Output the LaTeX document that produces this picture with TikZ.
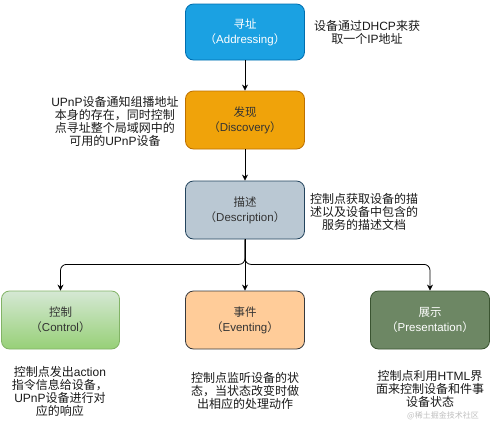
\documentclass[tikz,border=0pt]{standalone}
\usepackage{fontspec}
\setmainfont{Noto Sans CJK SC}
\newfontfamily\lat{Liberation Sans}
\newcommand{\la}[1]{{\lat #1}}
\usetikzlibrary{arrows.meta}
\definecolor{addrfill}{HTML}{1BA1E2}
\definecolor{addrline}{HTML}{006EAF}
\definecolor{discfill}{HTML}{F0A30A}
\definecolor{discline}{HTML}{BD7000}
\definecolor{descfill}{HTML}{BAC8D3}
\definecolor{descline}{HTML}{23445D}
\definecolor{ctrltop}{HTML}{D5E8D4}
\definecolor{ctrlbot}{HTML}{97D077}
\definecolor{ctrlline}{HTML}{82B366}
\definecolor{evfill}{HTML}{FFCC99}
\definecolor{evline}{HTML}{36393D}
\definecolor{presfill}{HTML}{6D8764}
\definecolor{presline}{HTML}{3A5431}
\tikzset{
  box/.style={draw, rounded corners=8pt, minimum width=119pt, minimum height=58pt,
    align=center, font=\fontsize{11.5}{15}\selectfont, line width=0.8pt, inner sep=2pt},
  note/.style={align=center, font=\fontsize{12}{13}\selectfont, inner sep=0pt, text=black!90},
  arr/.style={draw, line width=0.8pt, -{Stealth[length=6pt,width=6pt]}, rounded corners=6pt}
}
\begin{document}
\begin{tikzpicture}[x=1pt,y=-1pt]
\useasboundingbox (0,0) rectangle (491,421);
\node[box, fill=addrfill, draw=addrline, text=white, minimum height=56pt] (addr) at (245,32) {寻址\\（\la{Addressing}）};
\node[box, fill=discfill, draw=discline, text=black!80] (disc) at (245,120) {发现\\（\la{Discovery}）};
\node[box, fill=descfill, draw=descline, text=black!80] (desc) at (245,210) {描述\\（\la{Description}）};
\node[box, top color=ctrltop, bottom color=ctrlbot, draw=ctrlline, text=black!80, minimum width=118pt] (ctrl) at (60.5,320) {控制\\（\la{Control}）};
\node[box, fill=evfill, draw=evline, text=black!80] (ev) at (245,320) {事件\\（\la{Eventing}）};
\node[box, fill=presfill, draw=presline, text=white] (pres) at (430,320) {展示\\（\la{Presentation}）};

\draw[arr] (addr) -- (disc);
\draw[arr] (disc) -- (desc);
\draw[arr] (desc.south) -- ++(0,25) -| (ctrl.north);
\draw[arr] (desc.south) -- (ev.north);
\draw[arr] (desc.south) -- ++(0,25) -| (pres.north);

\node[note] (n1) at (367,32) {设备通过\la{DHCP}来获\\取一个\la{IP}地址};
\node[note] (n2) at (115,121) {\la{UPnP}设备通知组播地址\\本身的存在，同时控制\\点寻址整个局域网中的\\可用的\la{UPnP}设备};
\node[note] (n3) at (364,212) {控制点获取设备的描\\述以及设备中包含的\\服务的描述文档};
\node[note] (n4) at (60,391) {控制点发出\la{action}\\指令信息给设备，\\\la{UPnP}设备进行对\\应的响应};
\node[note] (n5) at (245,391) {控制点监听设备的状\\态，当状态改变时做\\出相应的处理动作};
\node[note] (n6) at (430,389) {控制点利用\la{HTML}界\\面来控制设备和件事\\设备状态};
\node[font=\fontsize{8}{9}\selectfont, text=black!25, inner sep=0pt] (wm) at (443,415.5) {@稀土掘金技术社区};
\end{tikzpicture}
\end{document}
